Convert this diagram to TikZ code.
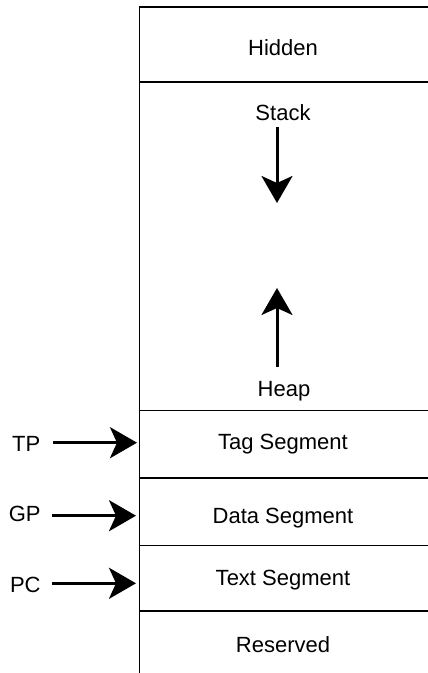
\documentclass[tikz,border=0pt]{standalone}
\usepackage{fontspec}
\setmainfont{Liberation Sans}
\usetikzlibrary{arrows.meta}
\begin{document}
\begin{tikzpicture}[x=1pt,y=-1pt,
  lbl/.style={font=\fontsize{22}{26}\selectfont, inner sep=0pt, anchor=base},
  ptr/.style={font=\fontsize{22}{26}\selectfont, inner sep=0pt, anchor=base east},
  wall/.style={line width=1.5pt},
  bigarrow/.style={line width=3pt, -{Stealth[length=27pt,width=31pt,inset=7pt]}}]
\useasboundingbox (0,0) rectangle (428,673);
% region labels
\node[lbl] (hidden) at (283,55) {Hidden};
\node[lbl] (stack) at (283,120) {Stack};
\node[lbl] (heap) at (284,396) {Heap};
\node[lbl] (tag) at (283,449.5) {Tag Segment};
\node[lbl] (data) at (283,523) {Data Segment};
\node[lbl] (text) at (283,585) {Text Segment};
\node[lbl] (res) at (283,652) {Reserved};
% pointer labels
\node[ptr] (tp) at (40.5,451.5) {TP};
\node[ptr] (gp) at (40.8,521.7) {GP};
\node[ptr] (pc) at (40.8,592.5) {PC};
% memory column walls
\coordinate (wt) at (139.5,7);
\coordinate (wb) at (139.5,673);
\draw[wall] (wb) -- (wt) -- (428,7);
\foreach \yy in {82,410.3,478,545.7,611} \draw[wall] (139.5,\yy) -- (428,\yy);
% growth arrows
\coordinate (s1) at (277,127);
\coordinate (s2) at (277,203);
\coordinate (h1) at (277,367);
\coordinate (h2) at (277,288);
\draw[bigarrow] (s1) -- (s2);
\draw[bigarrow] (h1) -- (h2);
% pointer arrows
\coordinate (tpa) at (53,442.7);
\coordinate (tpb) at (137,442.7);
\coordinate (gpa) at (52,515.7);
\coordinate (gpb) at (136,515.7);
\coordinate (pca) at (52,583.3);
\coordinate (pcb) at (136,583.3);
\draw[bigarrow] (tpa) -- (tpb);
\draw[bigarrow] (gpa) -- (gpb);
\draw[bigarrow] (pca) -- (pcb);
\end{tikzpicture}
\end{document}
